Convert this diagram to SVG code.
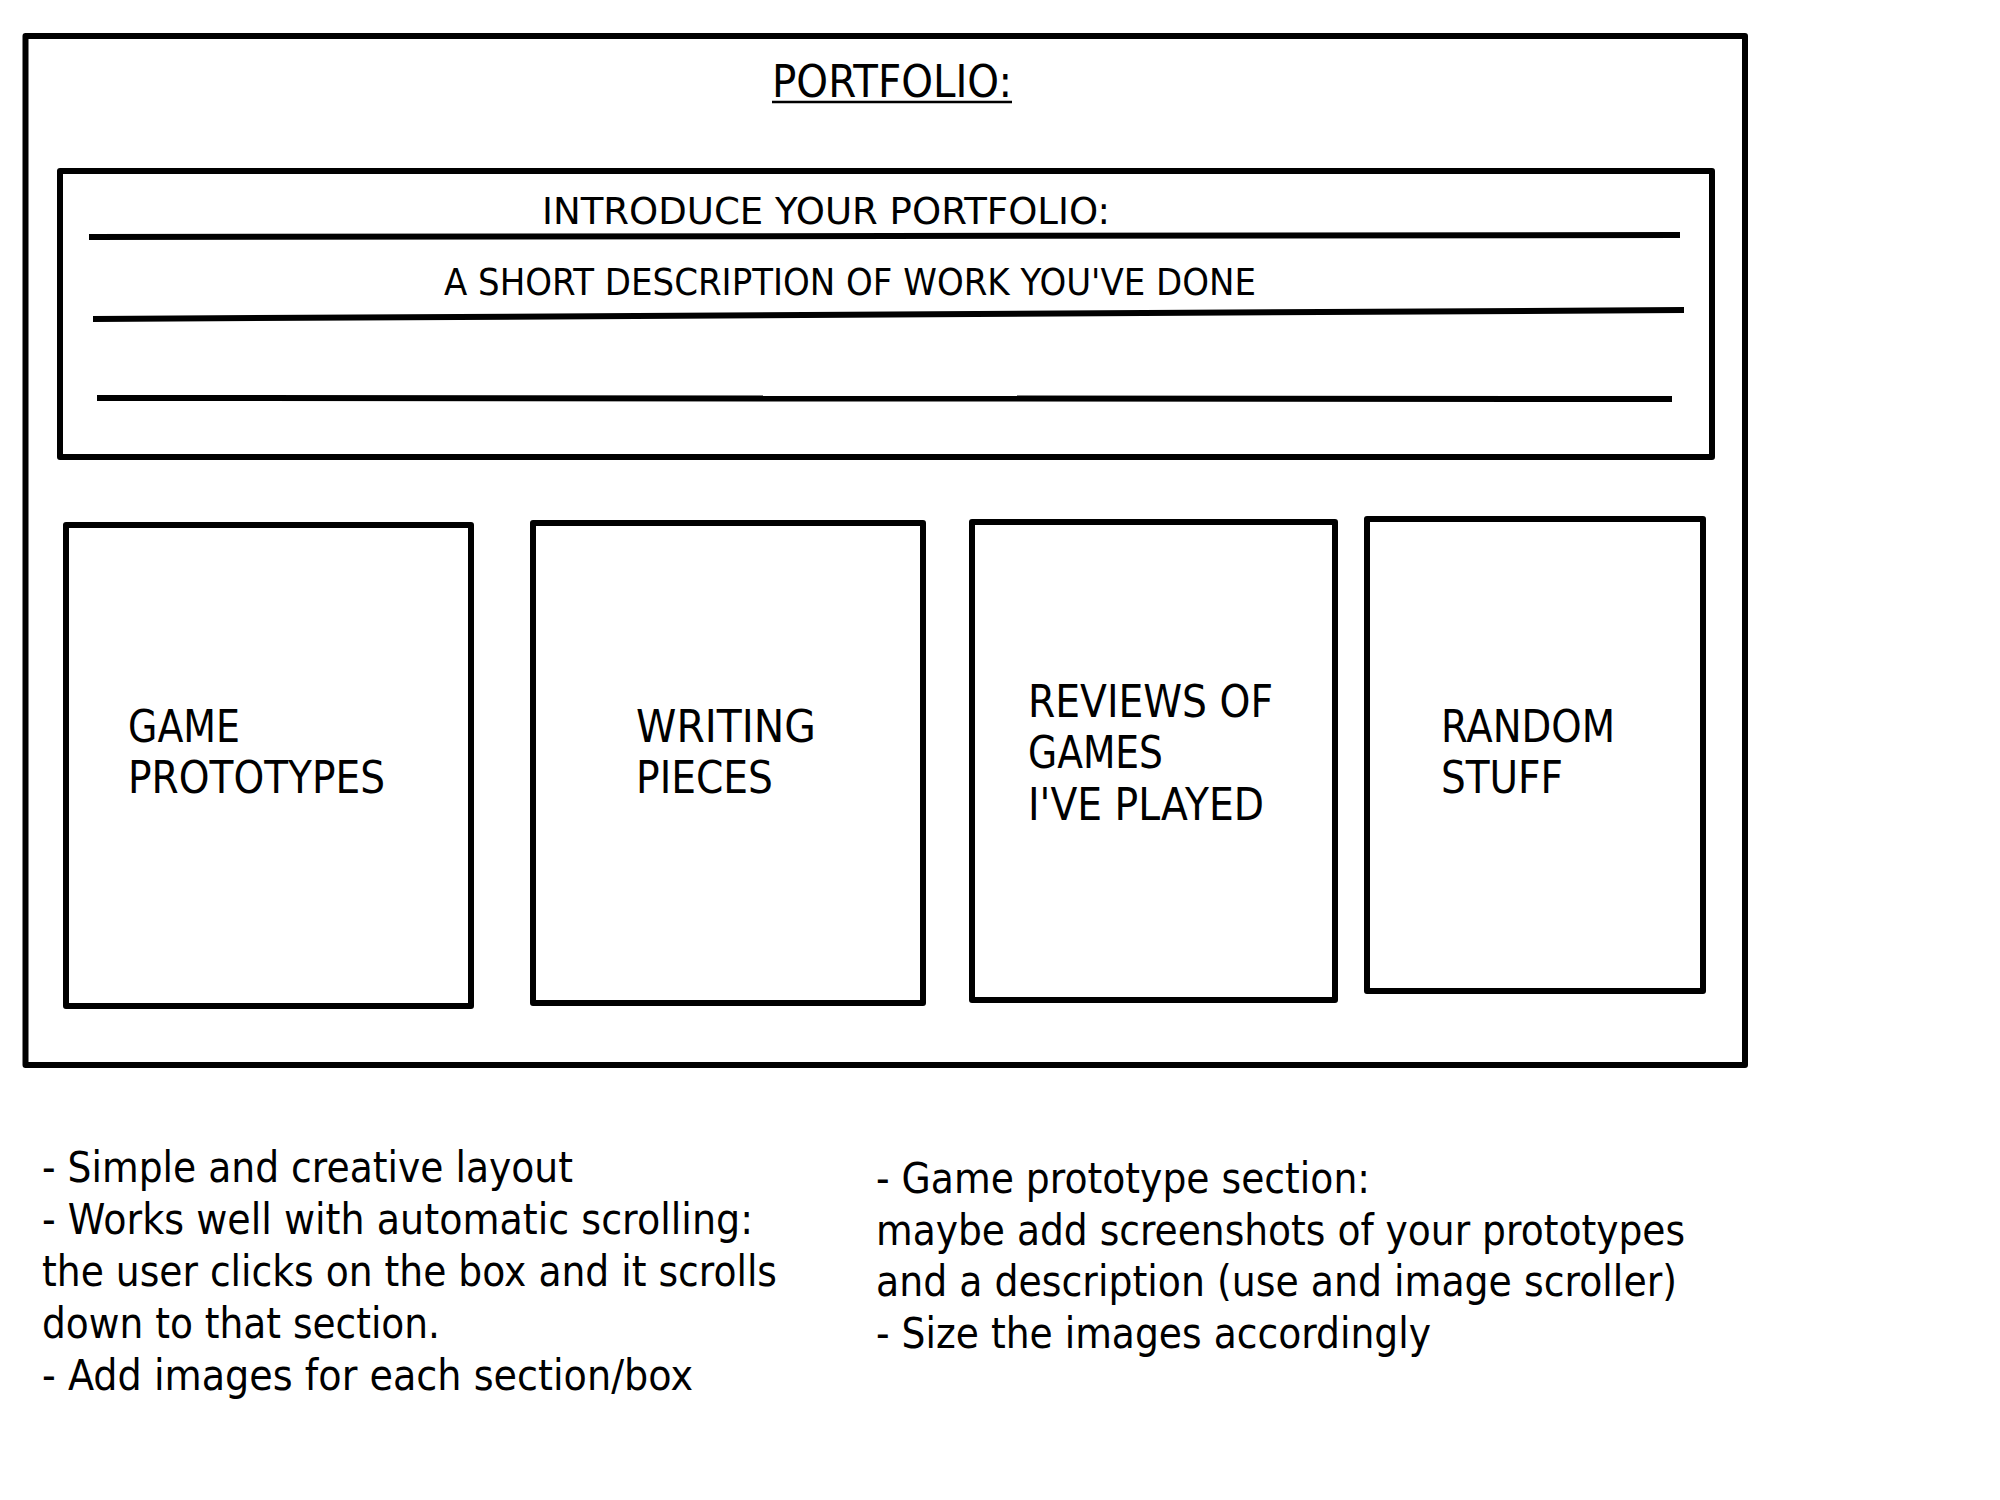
<svg xmlns="http://www.w3.org/2000/svg" width="2000" height="1500" viewBox="0 0 2000 1500">
<style>
.box{fill:none;stroke:#000;stroke-width:6;stroke-linejoin:round}
.rule{stroke:#000;stroke-width:6}
text{font-family:"DejaVu Sans","Liberation Sans",sans-serif;fill:#000}
.big{font-size:44px}
.mid{font-size:38px}
.note{font-size:43px}
</style>
<rect width="2000" height="1500" fill="#fff"/>
<g id="page">
<rect class="box" x="25.5" y="36" width="1719.5" height="1029"/>
<text class="big" x="772" y="97" textLength="240" lengthAdjust="spacingAndGlyphs">PORTFOLIO:</text>
<line x1="772" y1="102" x2="1012" y2="102" stroke="#000" stroke-width="2.5"/>
</g>
<g id="intro">
<rect class="box" x="60" y="171" width="1652" height="286"/>
<text class="mid" x="542" y="224" textLength="568" lengthAdjust="spacingAndGlyphs">INTRODUCE YOUR PORTFOLIO:</text>
<text class="mid" x="444" y="295" textLength="812" lengthAdjust="spacingAndGlyphs">A SHORT DESCRIPTION OF WORK YOU'VE DONE</text>
</g>
<g id="connectors">
<line class="rule" x1="89" y1="237" x2="1680" y2="235"/>
<line class="rule" x1="93" y1="319" x2="1684" y2="310"/>
<line class="rule" x1="97" y1="398" x2="1672" y2="399"/>
</g>
<g id="game-prototypes">
<rect class="box" x="66" y="525" width="405" height="481"/>
<text class="big" x="128" y="742" textLength="112" lengthAdjust="spacingAndGlyphs">GAME</text>
<text class="big" x="128" y="793" textLength="257" lengthAdjust="spacingAndGlyphs">PROTOTYPES</text>
</g>
<g id="writing-pieces">
<rect class="box" x="533" y="523" width="390" height="480"/>
<text class="big" x="636" y="742" textLength="180" lengthAdjust="spacingAndGlyphs">WRITING</text>
<text class="big" x="636" y="793" textLength="137" lengthAdjust="spacingAndGlyphs">PIECES</text>
</g>
<g id="reviews">
<rect class="box" x="972" y="522" width="363" height="478"/>
<text class="big" x="1028" y="717" textLength="245" lengthAdjust="spacingAndGlyphs">REVIEWS OF</text>
<text class="big" x="1028" y="768" textLength="135" lengthAdjust="spacingAndGlyphs">GAMES</text>
<text class="big" x="1028" y="820" textLength="236" lengthAdjust="spacingAndGlyphs">I'VE PLAYED</text>
</g>
<g id="random-stuff">
<rect class="box" x="1367" y="519" width="336" height="472"/>
<text class="big" x="1441" y="742" textLength="174" lengthAdjust="spacingAndGlyphs">RANDOM</text>
<text class="big" x="1441" y="793" textLength="122" lengthAdjust="spacingAndGlyphs">STUFF</text>
</g>
<g id="notes-left">
<text class="note" x="42" y="1182" textLength="531" lengthAdjust="spacingAndGlyphs">- Simple and creative layout</text>
<text class="note" x="42" y="1234" textLength="711" lengthAdjust="spacingAndGlyphs">- Works well with automatic scrolling:</text>
<text class="note" x="42" y="1286" textLength="735" lengthAdjust="spacingAndGlyphs">the user clicks on the box and it scrolls</text>
<text class="note" x="42" y="1338" textLength="398" lengthAdjust="spacingAndGlyphs">down to that section.</text>
<text class="note" x="42" y="1390" textLength="651" lengthAdjust="spacingAndGlyphs">- Add images for each section/box</text>
</g>
<g id="notes-right">
<text class="note" x="876" y="1193" textLength="494" lengthAdjust="spacingAndGlyphs">- Game prototype section:</text>
<text class="note" x="876" y="1245" textLength="809" lengthAdjust="spacingAndGlyphs">maybe add screenshots of your prototypes</text>
<text class="note" x="876" y="1296" textLength="801" lengthAdjust="spacingAndGlyphs">and a description (use and image scroller)</text>
<text class="note" x="876" y="1348" textLength="555" lengthAdjust="spacingAndGlyphs">- Size the images accordingly</text>
</g>
</svg>
